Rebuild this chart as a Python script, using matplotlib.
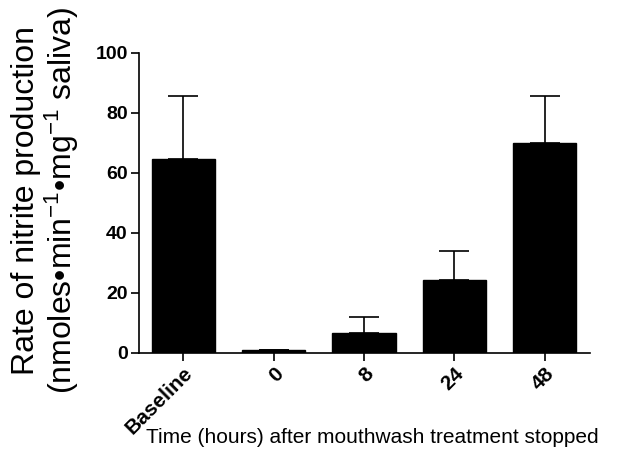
import matplotlib
matplotlib.use('Agg')
import matplotlib.pyplot as plt

# === DATA ===
groups = ['Baseline', '0', '8', '24', '48']
rate_mean = [64.6, 0.8, 6.7, 24.4, 69.8]
rate_sem = [21.0, 0.0, 5.3, 9.5, 15.9]
y_ticks = [0, 20, 40, 60, 80, 100]

plt.rcParams['font.family'] = ['Liberation Sans', 'DejaVu Sans']
plt.rcParams['mathtext.fontset'] = 'custom'
plt.rcParams['mathtext.rm'] = 'Liberation Sans'
plt.rcParams['mathtext.it'] = 'Liberation Sans'

fig = plt.figure(figsize=(6.3, 4.61), dpi=100)
ax = fig.add_axes([0.2206, 0.2349, 0.7159, 0.6508])

x = list(range(len(groups)))
ax.bar(x, rate_mean, width=0.7, color='black', edgecolor='black', zorder=2)
ax.errorbar(x, rate_mean, yerr=[[0] * len(rate_sem), rate_sem], fmt='none',
            ecolor='black', elinewidth=1.2, capsize=11, capthick=1.2, zorder=1)

ax.set_xlim(-0.49, 4.5)
ax.set_ylim(0, 100)
ax.set_yticks(y_ticks)
ax.set_xticks(x)
ax.set_xticklabels(groups, rotation=45, ha='right', va='top', rotation_mode='anchor',
                   fontsize=15, fontweight='bold')
for lab in ax.get_yticklabels():
    lab.set_fontsize(14)
    lab.set_fontweight('bold')

for side in ['top', 'right']:
    ax.spines[side].set_visible(False)
for side in ['left', 'bottom']:
    ax.spines[side].set_linewidth(1.2)
ax.tick_params(axis='both', direction='out', length=6, width=1.2, pad=2)

ax.set_ylabel('Rate of nitrite production\n(nmoles•min$^{-1}$•mg$^{-1}$ saliva)',
              fontsize=23, linespacing=1.05, va='center')
ax.yaxis.set_label_coords(-0.206, 0.509)
ax.set_xlabel('Time (hours) after mouthwash treatment stopped', fontsize=15, va='center')
ax.xaxis.set_label_coords(0.517, -0.284)

fig.savefig('out.png', dpi=100)
